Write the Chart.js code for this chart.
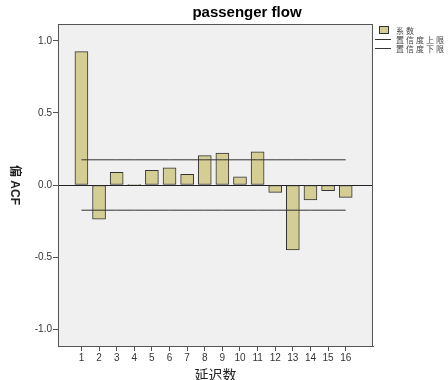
<!DOCTYPE html>
<html>
<head>
<meta charset="utf-8">
<script src="https://cdn.jsdelivr.net/npm/chart.js@4/dist/chart.umd.min.js"></script>
<style>
  html, body { margin: 0; padding: 0; background: #fff; }
  #wrap { width: 448px; height: 380px; }
</style>
</head>
<body>
<div id="wrap"><canvas id="myChart" width="448" height="380"></canvas></div>
<script>
// Données
const lags = [1, 2, 3, 4, 5, 6, 7, 8, 9, 10, 11, 12, 13, 14, 15, 16];
const coef = [0.926, -0.238, 0.088, 0.003, 0.102, 0.12, 0.074, 0.204, 0.222, 0.056, 0.231, -0.051, -0.451, -0.104, -0.04, -0.086];
const upperLimit = [0.175, 0.175, 0.175, 0.175, 0.175, 0.175, 0.175, 0.175, 0.175, 0.175, 0.175, 0.175, 0.175, 0.175, 0.175, 0.175];
const lowerLimit = [-0.175, -0.175, -0.175, -0.175, -0.175, -0.175, -0.175, -0.175, -0.175, -0.175, -0.175, -0.175, -0.175, -0.175, -0.175, -0.175];
const yTicks = [-1.0, -0.5, 0.0, 0.5, 1.0];
const seriesNames = ['系数', '置信度上限', '置信度下限'];

const barColor = '#d4ce95';
const cjk = '"Noto Sans CJK SC", "Liberation Sans", sans-serif';

// Fond gris, cadre, titre, légende et titres d'axes
const decor = {
    id: 'decor',
    beforeDraw(chart) {
        const c = chart.ctx, a = chart.chartArea;
        c.save();
        c.fillStyle = '#f0f0f0';
        c.fillRect(a.left, a.top, a.right - a.left, a.bottom - a.top);
        c.restore();
    },
    afterDraw(chart) {
        const c = chart.ctx, a = chart.chartArea;
        c.save();
        c.strokeStyle = '#555';
        c.lineWidth = 1;
        c.strokeRect(a.left + 0.5, a.top + 0.5, a.right - a.left - 1, a.bottom - a.top);

        // titre
        c.fillStyle = '#000';
        c.font = 'bold 15px "Liberation Sans", Arial, sans-serif';
        c.textAlign = 'center';
        c.textBaseline = 'middle';
        c.fillText('passenger flow', 247, 13);

        // titre axe x
        c.font = '14px ' + cjk;
        c.fillStyle = '#222';
        c.fillText('延迟数', (a.left + a.right) / 2, 375);

        // titre axe y (lu de haut en bas)
        c.save();
        c.translate(14, 185);
        c.rotate(Math.PI / 2);
        c.font = 'bold 12px "Liberation Sans", ' + cjk;
        c.fillStyle = '#222';
        c.fillText('偏 ACF', 0, 0);
        c.restore();

        // légende
        c.font = '8px ' + cjk;
        c.letterSpacing = '2px';
        c.textAlign = 'left';
        c.fillStyle = barColor;
        c.fillRect(379.5, 26.5, 9, 7);
        c.strokeStyle = '#333';
        c.strokeRect(379.5, 26.5, 9, 7);
        c.fillStyle = '#444';
        c.fillText(seriesNames[0], 396, 30.5);
        c.beginPath();
        c.moveTo(375, 39.5); c.lineTo(391, 39.5);
        c.moveTo(375, 48.5); c.lineTo(391, 48.5);
        c.stroke();
        c.fillText(seriesNames[1], 396, 39.5);
        c.fillText(seriesNames[2], 396, 48.5);
        c.restore();
    }
};

const ctx = document.getElementById('myChart');

new Chart(ctx, {
    type: 'bar',
    data: {
        datasets: [{
            type: 'line',
            label: seriesNames[1],
            data: lags.map((l, i) => ({ x: l, y: upperLimit[i] })),
            borderColor: '#333',
            borderWidth: 1,
            pointRadius: 0,
            fill: false
        }, {
            type: 'line',
            label: seriesNames[2],
            data: lags.map((l, i) => ({ x: l, y: lowerLimit[i] })),
            borderColor: '#333',
            borderWidth: 1,
            pointRadius: 0,
            fill: false
        }, {
            label: seriesNames[0],
            data: lags.map((l, i) => ({ x: l, y: coef[i] })),
            backgroundColor: barColor,
            borderColor: '#333',
            borderWidth: 1,
            borderSkipped: false,
            barThickness: 13
        }]
    },
    options: {
        responsive: false,
        animation: false,
        events: [],
        layout: { padding: { left: 0, right: 75, top: 24, bottom: 0 } },
        plugins: {
            legend: { display: false },
            title: { display: false },
            tooltip: { enabled: false }
        },
        scales: {
            x: {
                type: 'linear',
                min: -0.33,
                max: 17.55,
                offset: false,
                afterBuildTicks: s => { s.ticks = lags.map(v => ({ value: v })); },
                afterFit: s => { s.height = 34; },
                grid: { offset: false, color: 'transparent', tickColor: '#555', tickLength: 5, drawOnChartArea: false },
                border: { color: '#555' },
                ticks: {
                    padding: 1,
                    color: '#333',
                    font: { family: '"Liberation Sans", Arial, sans-serif', size: 10 },
                    callback: v => String(v)
                }
            },
            y: {
                min: -1.118,
                max: 1.118,
                afterBuildTicks: s => { s.ticks = yTicks.map(v => ({ value: v })); },
                afterFit: s => { s.width = 58; },
                grid: {
                    color: c => (c.tick && c.tick.value === 0) ? '#222' : 'transparent',
                    tickColor: '#555',
                    tickLength: 5
                },
                border: { color: '#555' },
                ticks: {
                    padding: 1,
                    color: '#333',
                    font: { family: '"Liberation Sans", Arial, sans-serif', size: 10 },
                    callback: v => Number(v).toFixed(1)
                }
            }
        }
    },
    plugins: [decor]
});
</script>
</body>
</html>
